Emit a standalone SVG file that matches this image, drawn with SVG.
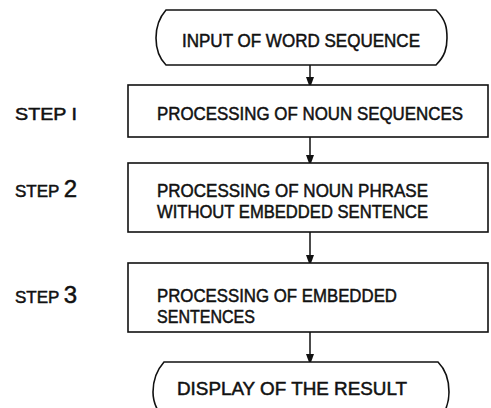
<svg xmlns="http://www.w3.org/2000/svg" width="491" height="408" viewBox="0 0 491 408">
  <defs>
    <marker id="arrow" markerWidth="8" markerHeight="11" refX="7" refY="4" orient="auto" markerUnits="userSpaceOnUse">
      <path d="M0,0 L11,4 L0,8 Z" fill="#111"/>
    </marker>
    <style>
      .shape { fill: #fff; stroke: #111; stroke-width: 1.6; }
      .link { fill: none; stroke: #111; stroke-width: 1.5; }
      .lbl { font-family: "Liberation Sans", Arial, sans-serif; font-size: 18.5px; fill: #111; stroke: #111; stroke-width: 0.5; }
      .step { font-family: "Liberation Sans", Arial, sans-serif; font-size: 17px; fill: #111; stroke: #111; stroke-width: 0.5; }
      .num { font-size: 24px; }
    </style>
  </defs>

  <!-- connectors -->
  <g id="connectors">
    <path class="link" d="M310,65 V84" marker-end="url(#arrow)"/>
    <path class="link" d="M310,137 V162" marker-end="url(#arrow)"/>
    <path class="link" d="M310,232 V262" marker-end="url(#arrow)"/>
    <path class="link" d="M310,332 V361" marker-end="url(#arrow)"/>
  </g>

  <!-- start terminator -->
  <g id="input">
    <path class="shape" d="M166,10 H436 C446,20 447,28 447,38 C447,48 445,56 436,65 H166 C158,57 156,48 156,38 C156,28 158,19 166,10 Z"/>
    <text class="lbl" x="182" y="47" textLength="238" lengthAdjust="spacingAndGlyphs">INPUT OF WORD SEQUENCE</text>
  </g>

  <!-- step 1 -->
  <g id="step1">
    <rect class="shape" x="128" y="85" width="360" height="52"/>
    <text class="lbl" x="157" y="120" textLength="306" lengthAdjust="spacingAndGlyphs">PROCESSING OF NOUN SEQUENCES</text>
    <text class="step" x="15" y="120" textLength="62" lengthAdjust="spacingAndGlyphs">STEP I</text>
  </g>

  <!-- step 2 -->
  <g id="step2">
    <rect class="shape" x="128" y="163" width="360" height="69"/>
    <text class="lbl" x="157" y="197" textLength="271" lengthAdjust="spacingAndGlyphs">PROCESSING OF NOUN PHRASE</text>
    <text class="lbl" x="157" y="218" textLength="271" lengthAdjust="spacingAndGlyphs">WITHOUT EMBEDDED SENTENCE</text>
    <text class="step" x="15" y="197">STEP <tspan class="num">2</tspan></text>
  </g>

  <!-- step 3 -->
  <g id="step3">
    <rect class="shape" x="128" y="263" width="360" height="69"/>
    <text class="lbl" x="157" y="302" textLength="240" lengthAdjust="spacingAndGlyphs">PROCESSING OF EMBEDDED</text>
    <text class="lbl" x="157" y="323" textLength="98" lengthAdjust="spacingAndGlyphs">SENTENCES</text>
    <text class="step" x="15" y="303">STEP <tspan class="num">3</tspan></text>
  </g>

  <!-- end terminator -->
  <g id="display">
    <path class="shape" d="M164,362 H438 C447,371 449,381 449,392 C449,402 447,410 440,418 H164 C156,410 153,402 153,392 C153,381 156,371 164,362 Z"/>
    <text class="lbl" x="177" y="395" textLength="230" lengthAdjust="spacingAndGlyphs">DISPLAY OF THE RESULT</text>
  </g>
</svg>
